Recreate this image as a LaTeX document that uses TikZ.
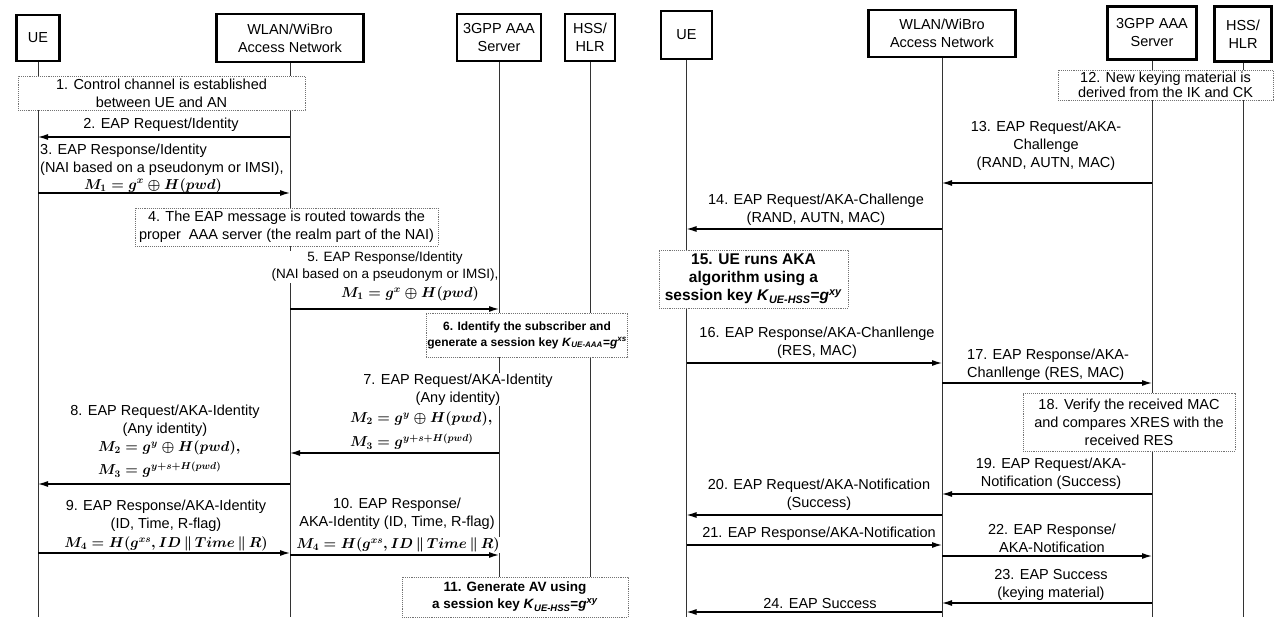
\documentclass[tikz,border=0pt]{standalone}
\usepackage{fontspec}
\setmainfont{Liberation Sans}
\usepackage{amsmath}
\usepackage{tikz}
\usetikzlibrary{arrows.meta}

\tikzset{
  actor/.style={draw, line width=2.2pt, align=center, inner sep=2pt},
  life/.style={line width=0.8pt, black!80},
  note/.style={draw=black!55, densely dotted, line width=0.9pt, fill=white, align=center, inner sep=1pt},
  lbl/.style={fill=white, align=center, inner sep=1pt},
  fml/.style={fill=white, inner sep=1pt, font=\fontsize{14.5}{18}\selectfont\boldmath},
  msg/.style={line width=1.2pt, -{Latex[length=10pt,width=6pt]}}
}

\begin{document}
\begin{tikzpicture}[x=1pt, y=-1pt, font=\fontsize{14.5}{18}\selectfont]
\useasboundingbox (0,0) rectangle (1274,620);
\coordinate (bot) at (0,617);

\node[actor, minimum width=43, minimum height=46] (ueA) at (38,38) {UE};
\node[actor, minimum width=147, minimum height=48] (anA) at (290,38) {WLAN/WiBro\\Access Network};
\node[actor, minimum width=84, minimum height=47] (aaaA) at (499,37.5) {3GPP AAA\\Server};
\node[actor, minimum width=50, minimum height=47] (hssA) at (590,37.5) {HSS/\\HLR};

\node[actor, minimum width=51, minimum height=48] (ueB) at (686.5,35) {UE};
\node[actor, minimum width=147, minimum height=47] (anB) at (942,33.5) {WLAN/WiBro\\Access Network};
\node[actor, minimum width=89, minimum height=53] (aaaB) at (1152,33) {3GPP AAA\\Server};
\node[actor, minimum width=57, minimum height=55] (hssB) at (1243,34) {HSS/\\HLR};

\draw[life]
  (ueA.south)--(ueA |- bot) (anA.south)--(anA |- bot)
  (aaaA.south)--(aaaA |- bot) (hssA.south)--(hssA |- bot)
  (ueB.south)--(ueB |- bot) (anB.south)--(anB |- bot)
  (aaaB.south)--(aaaB |- bot) (hssB.south)--(hssB |- bot);

\coordinate (m2) at (0,137);
\coordinate (m3) at (0,193);
\coordinate (m5) at (0,309);
\coordinate (m7) at (0,453);
\coordinate (m8) at (0,484);
\coordinate (m9) at (0,553);
\coordinate (m10) at (0,555);
\coordinate (m13) at (0,183);
\coordinate (m14) at (0,229);
\coordinate (m16) at (0,363);
\coordinate (m17) at (0,383);
\coordinate (m19) at (0,494);
\coordinate (m20) at (0,515);
\coordinate (m21) at (0,545);
\coordinate (m22) at (0,556);
\coordinate (m23) at (0,603);
\coordinate (m24) at (0,612);

\node[note, minimum width=287, minimum height=34] (s1) at (161.5,93) {1. Control channel is established\\between UE and AN};
\node[lbl] (t2) at (161,125) {2. EAP Request/Identity};
\node[lbl, align=left, anchor=west] (t3) at (39,160) {3. EAP Response/Identity\\(NAI based on a pseudonym or IMSI),};
\node[fml] (f3) at (153,185.5) {$M_1 = g^x \oplus H(pwd)$};
\node[note, minimum width=303, minimum height=38] (s4) at (286.5,227) {4. The EAP message is routed towards the\\proper~ AAA server (the realm part of the NAI)};
\node[lbl, font=\fontsize{13.5}{17}\selectfont] (t5) at (385,267) {5. EAP Response/Identity\\(NAI based on a pseudonym or IMSI),};
\node[fml] (f5) at (410,294) {$M_1 = g^x \oplus H(pwd)$};
\node[note, font=\fontsize{12}{16}\selectfont\bfseries, minimum width=194, minimum height=44] (s6) at (527,335) {6. Identify the subscriber and\\generate a session key \textit{K}\textsubscript{\textit{UE-AAA}}=\textit{g}\textsuperscript{\textit{xs}}};
\node[lbl] (t7) at (458,389.5) {7. EAP Request/AKA-Identity\\(Any identity)};
\node[fml, anchor=west] (f7a) at (349,419) {$M_2 = g^y \oplus H(pwd),$};
\node[fml, anchor=west] (f7b) at (349,442) {$M_3 = g^{y+s+H(pwd)}$};
\node[lbl] (t8) at (165,421) {8. EAP Request/AKA-Identity\\(Any identity)};
\node[fml, anchor=west] (f8a) at (97,448) {$M_2 = g^y \oplus H(pwd),$};
\node[fml, anchor=west] (f8b) at (97,470) {$M_3 = g^{y+s+H(pwd)}$};
\node[lbl] (t9) at (166,515.5) {9. EAP Response/AKA-Identity\\(ID, Time, R-flag)};
\node[fml] (f9) at (166,544) {$M_4 = H(g^{xs}, ID\,\|\,Time\,\|\,R)$};
\node[lbl] (t10) at (397,514) {10. EAP Response/\\AKA-Identity (ID, Time, R-flag)};
\node[fml] (f10) at (398,545) {$M_4 = H(g^{xs}, ID\,\|\,Time\,\|\,R)$};
\node[note, font=\fontsize{13.5}{17}\selectfont\bfseries, minimum width=226, minimum height=40] (s11) at (515,597) {11. Generate AV using\\a session key \textit{K}\textsubscript{\textit{UE-HSS}}=\textit{g}\textsuperscript{\textit{xy}}};

\node[note, font=\fontsize{14.5}{15}\selectfont, minimum width=215, minimum height=30] (s12) at (1165.5,85) {12. New keying material is\\derived from the IK and CK};
\node[lbl] (t13) at (1046,146) {13. EAP Request/AKA-\\Challenge\\(RAND, AUTN, MAC)};
\node[lbl] (t14) at (816,209.5) {14. EAP Request/AKA-Challenge\\(RAND, AUTN, MAC)};
\node[note, font=\fontsize{15.5}{18}\selectfont\bfseries, minimum width=189, minimum height=58] (s15) at (753.5,279) {15. UE runs AKA\\algorithm using a\\session key \textit{K}\textsubscript{\textit{UE-HSS}}=\textit{g}\textsuperscript{\textit{xy}}};
\node[lbl] (t16) at (817,343) {16. EAP Response/AKA-Chanllenge\\(RES, MAC)};
\node[lbl, align=left, anchor=west] (t17) at (966,365) {17. EAP Response/AKA-\\Chanllenge (RES, MAC)};
\node[note, minimum width=212, minimum height=58] (s18) at (1129,422) {18. Verify the received MAC\\and compares XRES with the\\received RES};
\node[lbl] (t19) at (1051,473.5) {19. EAP Request/AKA-\\Notification (Success)};
\node[lbl] (t20) at (819,495) {20. EAP Request/AKA-Notification\\(Success)};
\node[lbl] (t21) at (819,534) {21. EAP Response/AKA-Notification};
\node[lbl] (t22) at (1052,538) {22. EAP Response/\\AKA-Notification};
\node[lbl] (t23) at (1051,585) {23. EAP Success\\(keying material)};
\node[lbl] (t24) at (820,604) {24. EAP Success};

\draw[msg] (anA |- m2)--(ueA |- m2);
\draw[msg] (ueA |- m3)--(anA |- m3);
\draw[msg] (anA |- m5)--(aaaA |- m5);
\draw[msg] (aaaA |- m7)--(anA |- m7);
\draw[msg] (anA |- m8)--(ueA |- m8);
\draw[msg] (ueA |- m9)--(anA |- m9);
\draw[msg] (anA |- m10)--(aaaA |- m10);

\draw[msg] (aaaB |- m13)--(anB |- m13);
\draw[msg] (anB |- m14)--(ueB |- m14);
\draw[msg] (ueB |- m16)--(anB |- m16);
\draw[msg] (anB |- m17)--(aaaB |- m17);
\draw[msg] (aaaB |- m19)--(anB |- m19);
\draw[msg] (anB |- m20)--(ueB |- m20);
\draw[msg] (ueB |- m21)--(anB |- m21);
\draw[msg] (anB |- m22)--(aaaB |- m22);
\draw[msg] (aaaB |- m23)--(anB |- m23);
\draw[msg] (anB |- m24)--(ueB |- m24);
\end{tikzpicture}
\end{document}
